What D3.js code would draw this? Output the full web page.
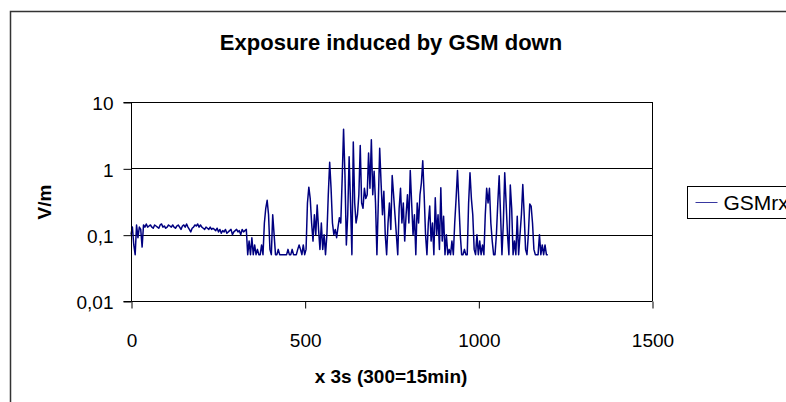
<!DOCTYPE html>
<html>
<head>
<meta charset="utf-8">
<script src="https://cdn.jsdelivr.net/npm/d3@7"></script>
<style>
  html, body { margin: 0; padding: 0; background: #fff; }
  svg { display: block; font-family: Arial, "Liberation Sans", sans-serif; }
</style>
</head>
<body>
<svg id="chart" width="786" height="402"></svg>
<script>
// GSM downlink field strength, one sample every 4 steps (1 step = 3 s)
const sampleStep = 4;
const gsmRx = [
  0.10, 0.13, 0.07, 0.05, 0.14, 0.09, 0.13, 0.12, 0.065, 0.14,
  0.13, 0.145, 0.13, 0.135, 0.14, 0.13, 0.125, 0.14, 0.135, 0.13,
  0.125, 0.14, 0.145, 0.13, 0.135, 0.125, 0.13, 0.14, 0.135, 0.13,
  0.14, 0.13, 0.125, 0.135, 0.14, 0.13, 0.12, 0.135, 0.14, 0.13,
  0.145, 0.13, 0.12, 0.11, 0.125, 0.13, 0.14, 0.135, 0.145, 0.13,
  0.14, 0.13, 0.125, 0.12, 0.13, 0.125, 0.12, 0.13, 0.12, 0.125,
  0.12, 0.115, 0.125, 0.11, 0.12, 0.105, 0.115, 0.11, 0.12, 0.105,
  0.11, 0.115, 0.12, 0.10, 0.11, 0.115, 0.12, 0.11, 0.115, 0.10,
  0.12, 0.11, 0.115, 0.12, 0.05, 0.08, 0.05, 0.09, 0.05, 0.07,
  0.05, 0.06, 0.05, 0.05, 0.07, 0.05, 0.15, 0.25, 0.33, 0.20,
  0.06, 0.05, 0.20, 0.10, 0.05, 0.05, 0.06, 0.05, 0.05, 0.05,
  0.05, 0.05, 0.05, 0.06, 0.05, 0.05, 0.06, 0.05, 0.05, 0.05,
  0.06, 0.07, 0.06, 0.05, 0.07, 0.05, 0.06, 0.30, 0.52, 0.35,
  0.15, 0.08, 0.20, 0.10, 0.28, 0.12, 0.06, 0.15, 0.06, 0.10,
  0.05, 0.10, 0.40, 1.23, 0.50, 0.15, 0.10, 0.12, 0.09, 0.13,
  0.18, 0.15, 0.70, 3.90, 0.80, 0.07, 0.20, 1.50, 0.30, 0.05,
  2.50, 0.30, 0.15, 0.20, 0.40, 2.20, 0.30, 0.25, 0.50, 0.35,
  0.40, 1.70, 0.50, 2.70, 0.40, 0.90, 0.30, 0.05, 0.30, 2.00,
  0.60, 0.20, 0.45, 0.10, 0.05, 0.15, 0.30, 0.12, 0.78, 0.40,
  0.20, 0.10, 0.05, 0.25, 0.50, 0.15, 0.30, 0.08, 0.20, 0.40,
  0.15, 0.93, 0.30, 0.10, 0.20, 0.05, 0.30, 0.15, 0.40, 0.60,
  1.30, 0.40, 0.10, 0.05, 0.15, 0.27, 0.08, 0.15, 0.05, 0.36,
  0.10, 0.20, 0.06, 0.51, 0.08, 0.19, 0.05, 0.10, 0.05, 0.06,
  0.05, 0.08, 0.05, 0.15, 0.35, 0.93, 0.30, 0.10, 0.05, 0.05,
  0.06, 0.05, 0.05, 0.30, 0.86, 0.35, 0.20, 0.06, 0.05, 0.10,
  0.05, 0.08, 0.05, 0.07, 0.05, 0.20, 0.50, 0.30, 0.50, 0.15,
  0.08, 0.05, 0.05, 0.10, 0.30, 0.77, 0.20, 0.05, 0.15, 0.86,
  0.30, 0.10, 0.05, 0.56, 0.25, 0.05, 0.08, 0.05, 0.19, 0.05,
  0.10, 0.20, 0.57, 0.20, 0.06, 0.05, 0.10, 0.29, 0.27, 0.15,
  0.06, 0.05, 0.05, 0.05, 0.10, 0.05, 0.07, 0.05, 0.07, 0.05,
  0.05
];

const xTicks = [0, 500, 1000, 1500];
const yTicks = [10, 1, 0.1, 0.01];
const yTickLabels = ["10", "1", "0,1", "0,01"];
const seriesName = "GSMrx";
const titleText = "Exposure induced by GSM down";
const xTitle = "x 3s (300=15min)";
const yTitle = "V/m";

const svg = d3.select("#chart");
const plot = { left: 131, right: 652, top: 102, bottom: 301 };

const x = d3.scaleLinear().domain([0, 1500]).range([plot.left, plot.right]);
const y = d3.scaleLog().domain([0.01, 10]).range([plot.bottom, plot.top]);

// chart area frame
svg.append("rect")
  .attr("x", 10.5).attr("y", 11.5)
  .attr("width", 820).attr("height", 420)
  .attr("fill", "#fff").attr("stroke", "#333").attr("stroke-width", 1.5);

// title
svg.append("text")
  .attr("x", 391).attr("y", 50)
  .attr("text-anchor", "middle")
  .attr("font-size", 22).attr("font-weight", "bold")
  .text(titleText);

// horizontal gridlines
svg.append("g")
  .selectAll("line")
  .data(yTicks.filter(d => d > 0.01))
  .join("line")
  .attr("x1", plot.left).attr("x2", plot.right)
  .attr("y1", d => Math.round(y(d)) + 0.5).attr("y2", d => Math.round(y(d)) + 0.5)
  .attr("stroke", "#000").attr("stroke-width", 1);

// plot area right edge
svg.append("line")
  .attr("x1", plot.right + 0.5).attr("x2", plot.right + 0.5)
  .attr("y1", plot.top).attr("y2", plot.bottom)
  .attr("stroke", "#000");

// series line
const line = d3.line()
  .x((d, i) => x(i * sampleStep))
  .y(d => y(d));

svg.append("path")
  .datum(gsmRx)
  .attr("fill", "none")
  .attr("stroke", "#000080")
  .attr("stroke-width", 1.5)
  .attr("stroke-linejoin", "round")
  .attr("d", line);

// y axis
const yAxis = d3.axisLeft(y)
  .tickValues(yTicks)
  .tickFormat((d, i) => yTickLabels[i])
  .tickSize(8).tickPadding(10);
const gy = svg.append("g")
  .attr("transform", `translate(${plot.left + 0.5},0.5)`)
  .call(yAxis);
gy.select(".domain").attr("stroke", "#000").attr("d", `M-8,${plot.top}H0V${plot.bottom}H-8`);
gy.selectAll(".tick line").attr("stroke", "#000");
gy.selectAll(".tick text")
  .attr("font-size", 19).attr("dy", "0.38em")
  .attr("font-family", "Arial, 'Liberation Sans', sans-serif")
  .attr("fill", "#000");

// x axis
const xAxis = d3.axisBottom(x)
  .tickValues(xTicks)
  .tickFormat(d3.format("d"))
  .tickSize(7).tickPadding(25);
const gx = svg.append("g")
  .attr("transform", `translate(0.5,${plot.bottom + 0.5})`)
  .call(xAxis);
gx.select(".domain").attr("stroke", "#000").attr("d", `M${plot.left},0H${plot.right}`);
gx.selectAll(".tick line").attr("stroke", "#000");
gx.selectAll(".tick text")
  .attr("font-size", 19)
  .attr("font-family", "Arial, 'Liberation Sans', sans-serif")
  .attr("fill", "#000");

// axis titles
svg.append("text")
  .attr("x", 391).attr("y", 383)
  .attr("text-anchor", "middle")
  .attr("font-size", 19).attr("font-weight", "bold")
  .text(xTitle);

svg.append("text")
  .attr("transform", "translate(51,202) rotate(-90)")
  .attr("text-anchor", "middle")
  .attr("font-size", 19).attr("font-weight", "bold")
  .text(yTitle);

// legend
const legend = svg.append("g").attr("transform", "translate(687.5,186.5)");
legend.append("rect")
  .attr("width", 140).attr("height", 32)
  .attr("fill", "#fff").attr("stroke", "#000");
legend.append("line")
  .attr("x1", 8).attr("x2", 30).attr("y1", 16).attr("y2", 16)
  .attr("stroke", "#3838a0").attr("stroke-width", 1);
legend.append("text")
  .attr("x", 36).attr("y", 23)
  .attr("font-size", 21)
  .text(seriesName);
</script>
</body>
</html>
